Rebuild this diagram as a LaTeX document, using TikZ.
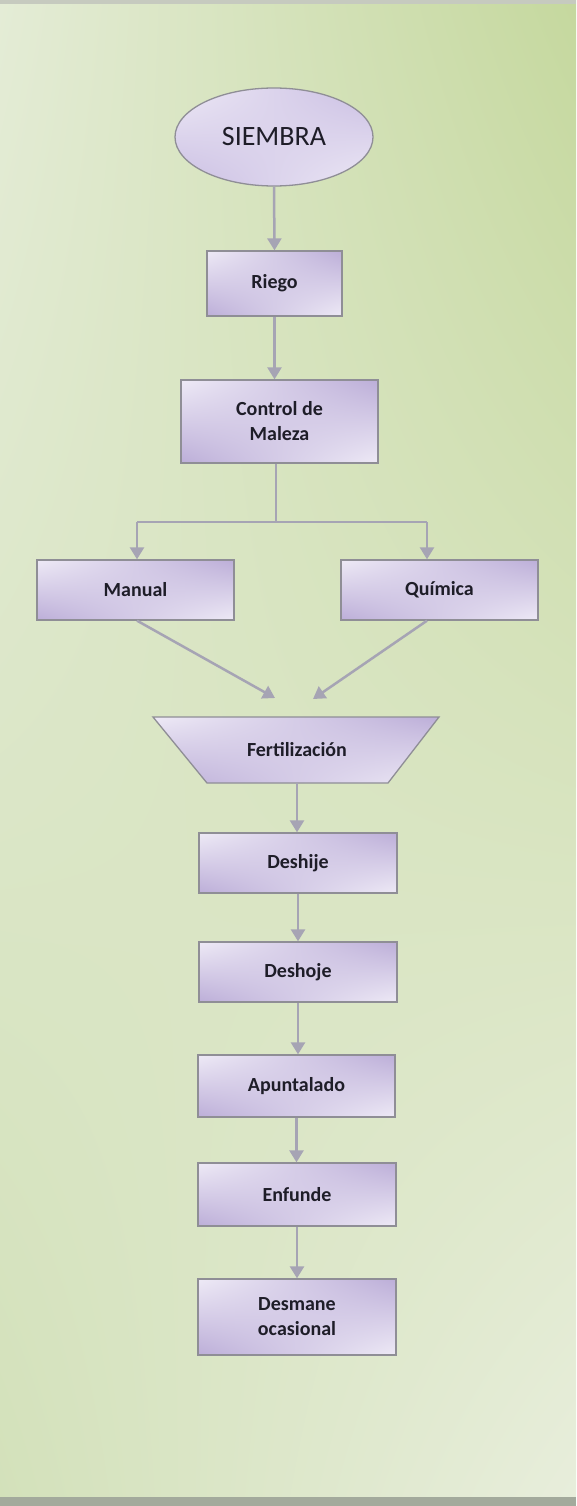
\documentclass[tikz,border=0pt]{standalone}
\usepackage{fontspec}
\setmainfont{Carlito}
\usetikzlibrary{arrows.meta,shapes.geometric,shadings}

% page background
\definecolor{bgUL}{HTML}{E4ECD6}
\definecolor{bgUR}{HTML}{C5D89E}
\definecolor{bgLL}{HTML}{D3E1BA}
\definecolor{bgLR}{HTML}{E8EEDC}
\definecolor{stripTop}{HTML}{C6CABF}
\definecolor{stripBot}{HTML}{A3AA9C}
% boxes and connectors
\definecolor{lavLight}{HTML}{EEEAF6}
\definecolor{lavDark}{HTML}{BCAED8}
\definecolor{ovalDark}{HTML}{C9BDE2}
\definecolor{boxLine}{HTML}{8F8E96}
\definecolor{arrowGray}{HTML}{A6A4B4}
\definecolor{ink}{HTML}{1E1D28}

\tikzset{
  lavshade/.style={shade, upper left=lavLight, upper right=lavDark,
                   lower left=lavDark, lower right=lavLight},
  labelfont/.style={font=\fontsize{20}{25}\selectfont\bfseries},
  stepbox/.style={lavshade, draw=boxLine, line width=1.3pt, rectangle,
                  inner sep=0pt, align=center, text=ink, labelfont},
  startoval/.style={shade, upper left=lavLight, upper right=ovalDark,
                    lower left=ovalDark, lower right=lavLight,
                    draw=boxLine, line width=1.3pt, ellipse,
                    inner sep=0pt, text=ink, font=\fontsize{28}{32}\selectfont},
  flow/.style={draw=arrowGray, line width=2.5pt,
               -{Triangle[width=14pt,length=12pt]}},
  plainline/.style={draw=arrowGray, line width=2.5pt},
}

\begin{document}
\begin{tikzpicture}[x=1pt,y=-1pt]
\useasboundingbox (0,0) rectangle (576,1506);

% background
\shade[upper left=bgUL, upper right=bgUR, lower left=bgLL, lower right=bgLR]
  (0,0) rectangle (576,1506);
\fill[stripTop] (0,0) rectangle (576,4);
\fill[stripBot] (0,1497) rectangle (576,1506);

% start
\node[startoval, minimum width=198pt, minimum height=98pt] (siembra) at (274,137) {SIEMBRA};

% steps
\node[stepbox, minimum width=135pt, minimum height=65pt] (riego) at (274.5,283.5) {Riego};
\node[stepbox, minimum width=197pt, minimum height=83pt] (control) at (279.5,421.5) {Control de\\Maleza};
\node[stepbox, minimum width=197pt, minimum height=60pt] (manual) at (135.5,590) {Manual};
\node[stepbox, minimum width=197pt, minimum height=60pt] (quimica) at (439.5,590) {Química};

% fertilisation (inverted trapezoid)
\shade[lavshade, draw=boxLine, line width=1.3pt]
  (153,717) -- (439,717) -- (388,783) -- (207,783) -- cycle;
\node[inner sep=0pt, minimum width=181pt, minimum height=66pt, text=ink,
      labelfont] (fert) at (297,750) {Fertilización};

\node[stepbox, minimum width=198pt, minimum height=60pt] (deshije) at (298,863) {Deshije};
\node[stepbox, minimum width=198pt, minimum height=60pt] (deshoje) at (298,972) {Deshoje};
\node[stepbox, minimum width=197pt, minimum height=62pt] (apunt) at (296.5,1086) {Apuntalado};
\node[stepbox, minimum width=198pt, minimum height=63pt] (enfunde) at (297,1194.5) {Enfunde};
\node[stepbox, minimum width=198pt, minimum height=76pt] (desmane) at (297,1317) {Desmane\\ocasional};

% branch points
\coordinate (bj) at (276,522);
\coordinate (bl) at (137,522);
\coordinate (br) at (427,522);
\coordinate (tipL) at (275,698);
\coordinate (tipR) at (313,699);

% connectors
\draw[flow] (siembra.south) -- (riego.north);
\draw[flow] (riego.south) -- (riego.south |- control.north);
\draw[plainline] (control.south -| bj) -- (bj);
\draw[plainline] (bl) -- (br);
\draw[flow] (bl) -- (bl |- manual.north);
\draw[flow] (br) -- (br |- quimica.north);
\draw[flow] (manual.south -| bl) -- (tipL);
\draw[flow] (quimica.south -| br) -- (tipR);
\draw[flow] (fert.south) -- (fert.south |- deshije.north);
\draw[flow] (deshije.south) -- (deshoje.north);
\draw[flow] (deshoje.south) -- (deshoje.south |- apunt.north);
\draw[flow] (apunt.south) -- (apunt.south |- enfunde.north);
\draw[flow] (enfunde.south) -- (desmane.north);
\end{tikzpicture}
\end{document}
